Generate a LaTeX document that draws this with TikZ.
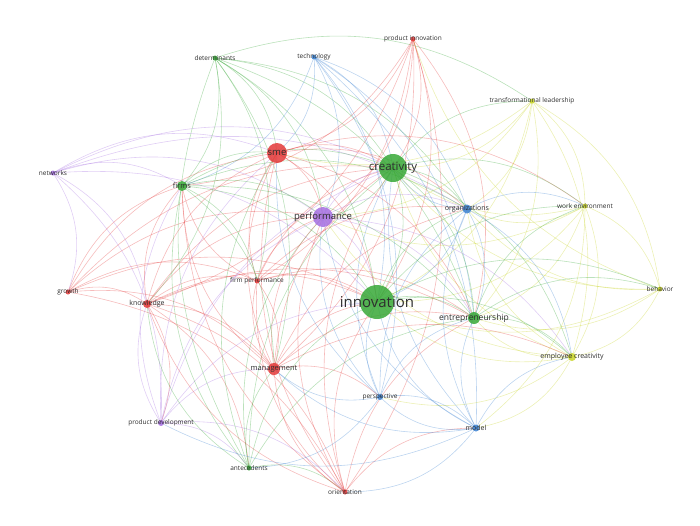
\documentclass[tikz,border=0pt]{standalone}
\usepackage{fontspec}
\setmainfont{Open Sans}
\usetikzlibrary{backgrounds}
\definecolor{cr}{RGB}{228,57,57}
\definecolor{cg}{RGB}{55,168,55}
\definecolor{cb}{RGB}{60,130,210}
\definecolor{cy}{RGB}{200,212,40}
\definecolor{cp}{RGB}{165,110,225}
\begin{document}
\begin{tikzpicture}[x=1pt,y=-1pt,
  dot/.style={circle,inner sep=0pt,minimum size=#1,draw=none,fill opacity=0.85},
  lab/.style={font=\fontsize{#1}{#1}\selectfont,text=black!82,inner sep=0pt},
  edge/.style={draw=#1,opacity=0.34,line width=0.6pt}]
\useasboundingbox (0,0) rectangle (700,525);
% nodes
\node[dot=5pt,fill=cg] (det) at (215,58) {};
\node[dot=5pt,fill=cb] (tech) at (314,57) {};
\node[dot=5pt,fill=cr] (pinn) at (413,39) {};
\node[dot=5pt,fill=cy] (tl) at (532,101) {};
\node[dot=20pt,fill=cr] (sme) at (277,153) {};
\node[dot=28pt,fill=cg] (crea) at (393,168) {};
\node[dot=10pt,fill=cg] (firms) at (182,186) {};
\node[dot=5pt,fill=cp] (net) at (53,173) {};
\node[dot=20pt,fill=cp] (perf) at (323,217) {};
\node[dot=9pt,fill=cb] (org) at (467,209) {};
\node[dot=5pt,fill=cy] (we) at (585,206) {};
\node[dot=5pt,fill=cr] (growth) at (68,292) {};
\node[dot=8pt,fill=cr] (know) at (147,304) {};
\node[dot=5pt,fill=cr] (fp) at (257,281) {};
\node[dot=34pt,fill=cg] (inn) at (377,302) {};
\node[dot=12pt,fill=cg] (ent) at (474,318) {};
\node[dot=5pt,fill=cy] (beh) at (660,289) {};
\node[dot=8pt,fill=cy] (ec) at (572,357) {};
\node[dot=12pt,fill=cr] (man) at (274,369) {};
\node[dot=6pt,fill=cb] (persp) at (380,397) {};
\node[dot=6pt,fill=cp] (pd) at (161,423) {};
\node[dot=7pt,fill=cb] (model) at (476,428) {};
\node[dot=5pt,fill=cg] (ant) at (249,468) {};
\node[dot=5pt,fill=cr] (ori) at (345,492) {};
% edges
\begin{pgfonlayer}{background}
\foreach \s/\t/\c in {
 net/firms/cp, net/sme/cp, net/perf/cp, net/crea/cp, net/inn/cp, net/know/cp, net/pd/cp, net/org/cp, net/growth/cp,
 det/firms/cg, det/sme/cg, det/crea/cg, det/inn/cg, det/perf/cg, det/ent/cg, det/org/cg, det/man/cg, det/know/cg, det/tl/cg, det/fp/cg,
 tech/crea/cb, tech/inn/cb, tech/org/cb, tech/model/cb, tech/persp/cb, tech/sme/cb, tech/perf/cb, tech/firms/cb, tech/ent/cb,
 pinn/sme/cr, pinn/crea/cr, pinn/inn/cr, pinn/perf/cr, pinn/man/cr, pinn/fp/cr, pinn/know/cr, pinn/ori/cr, pinn/firms/cr, pinn/ent/cr,
 tl/crea/cy, tl/inn/cy, tl/we/cy, tl/ec/cy, tl/beh/cy, tl/org/cy, tl/ent/cy, tl/perf/cy, tl/sme/cy,
 we/crea/cy, we/inn/cy, we/ec/cy, we/beh/cy, we/org/cy, we/ent/cy, we/perf/cy, we/model/cy,
 beh/ec/cy, beh/crea/cy, beh/inn/cy, beh/ent/cy, beh/org/cy, beh/pinn/cy,
 ec/inn/cy, ec/crea/cy, ec/org/cy, ec/model/cy, ec/ent/cy, ec/perf/cy, ec/persp/cy,
 growth/sme/cr, growth/know/cr, growth/firms/cr, growth/inn/cr, growth/crea/cr, growth/perf/cr, growth/man/cr, growth/ori/cr, growth/fp/cr,
 know/sme/cr, know/firms/cr, know/inn/cr, know/crea/cr, know/perf/cr, know/man/cr, know/fp/cr, know/pd/cr, know/ori/cr, know/ant/cr, know/ent/cr,
 pd/know/cp, pd/man/cp, pd/inn/cp, pd/perf/cp, pd/sme/cp, pd/crea/cp, pd/ori/cp, pd/ant/cp, pd/firms/cp,
 ant/inn/cg, ant/crea/cg, ant/man/cg, ant/perf/cg, ant/firms/cg, ant/ent/cg, ant/sme/cg, ant/ori/cg, ant/know/cg, ant/det/cg,
 ori/inn/cr, ori/sme/cr, ori/man/cr, ori/crea/cr, ori/perf/cr, ori/know/cr, ori/fp/cr, ori/model/cr, ori/ent/cr, ori/firms/cr,
 model/inn/cb, model/crea/cb, model/ent/cb, model/org/cb, model/persp/cb, model/perf/cb, model/man/cb, model/ori/cb, model/pd/cb, model/ec/cb,
 persp/inn/cb, persp/crea/cb, persp/org/cb, persp/perf/cb, persp/model/cb, persp/man/cb, persp/ent/cb, persp/sme/cb, persp/ant/cb,
 man/inn/cr, man/sme/cr, man/crea/cr, man/perf/cr, man/fp/cr, man/firms/cr, man/ent/cr, man/org/cr, man/persp/cr, man/ec/cr,
 fp/inn/cr, fp/sme/cr, fp/crea/cr, fp/perf/cr, fp/firms/cr, fp/man/cr, fp/ent/cr, fp/org/cr,
 firms/sme/cg, firms/crea/cg, firms/inn/cg, firms/perf/cg, firms/ent/cg, firms/org/cg, firms/man/cg, firms/fp/cg,
 sme/crea/cr, sme/inn/cr, sme/perf/cr, sme/ent/cr, sme/org/cr, sme/we/cr,
 crea/inn/cg, crea/perf/cg, crea/org/cg, crea/ent/cg, crea/we/cg, crea/tl/cg, crea/ec/cg,
 perf/inn/cp, perf/crea/cp, perf/ent/cp, perf/org/cp, perf/ec/cp,
 inn/ent/cg, inn/org/cg, inn/ec/cg, inn/we/cg, inn/beh/cg,
 org/ent/cb, org/inn/cb, org/crea/cb, org/ec/cb, org/we/cb,
 ent/ec/cg, ent/we/cg, ent/beh/cg}
 \draw[edge=\c] (\s.center) to[bend left=26] (\t.center);
\end{pgfonlayer}
% labels
\node[lab=6.5] (detL) at (215,58) {determinants};
\node[lab=6.5] (techL) at (314,57) {technology};
\node[lab=6.5] (pinnL) at (413,39) {product innovation};
\node[lab=6.5] (tlL) at (532,101) {transformational leadership};
\node[lab=9.5] (smeL) at (277,153) {sme};
\node[lab=11.5] (creaL) at (393,168) {creativity};
\node[lab=7.5] (firmsL) at (182,186) {firms};
\node[lab=6.5] (netL) at (53,173) {networks};
\node[lab=9.5] (perfL) at (323,217) {performance};
\node[lab=7] (orgL) at (467,209) {organizations};
\node[lab=6.5] (weL) at (585,206) {work environment};
\node[lab=6.5] (growthL) at (68,292) {growth};
\node[lab=7] (knowL) at (147,304) {knowledge};
\node[lab=6.5] (fpL) at (257,281) {firm performance};
\node[lab=15] (innL) at (377,302) {innovation};
\node[lab=8.5] (entL) at (474,318) {entrepreneurship};
\node[lab=6.5] (behL) at (660,289) {behavior};
\node[lab=7] (ecL) at (572,357) {employee creativity};
\node[lab=7.5] (manL) at (274,369) {management};
\node[lab=6.5] (perspL) at (380,397) {perspective};
\node[lab=6.5] (pdL) at (161,423) {product development};
\node[lab=7] (modelL) at (476,428) {model};
\node[lab=6.5] (antL) at (249,468) {antecedents};
\node[lab=6.5] (oriL) at (345,492) {orientation};
\end{tikzpicture}
\end{document}
